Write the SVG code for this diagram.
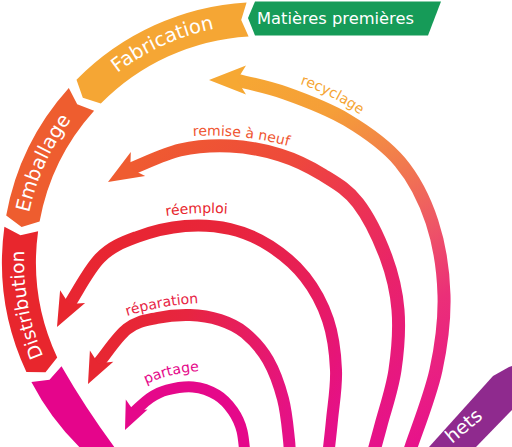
<svg xmlns="http://www.w3.org/2000/svg" width="512" height="447" viewBox="0 0 512 447">
<defs>
<style>
text{font-family:"DejaVu Sans","Liberation Sans",sans-serif}
.ring{font-size:19.5px;fill:#fff}
.lbl{font-size:14px}
.shaft{fill:none;stroke-linecap:butt}
</style>
<linearGradient id="gRec" gradientUnits="userSpaceOnUse" x1="220" y1="80" x2="420" y2="440">
<stop offset="0" stop-color="#F6A833"/><stop offset="0.2" stop-color="#F59E38"/><stop offset="0.4" stop-color="#F1784F"/><stop offset="0.55" stop-color="#EE5865"/><stop offset="0.72" stop-color="#EB2F78"/><stop offset="1" stop-color="#E7138A"/>
</linearGradient>
<linearGradient id="gRem" gradientUnits="userSpaceOnUse" x1="110" y1="175" x2="380" y2="440">
<stop offset="0" stop-color="#EF5C30"/><stop offset="0.3" stop-color="#EE4A3A"/><stop offset="0.5" stop-color="#EC3550"/><stop offset="0.7" stop-color="#E92468"/><stop offset="1" stop-color="#E6128A"/>
</linearGradient>
<linearGradient id="gRee" gradientUnits="userSpaceOnUse" x1="60" y1="250" x2="340" y2="420">
<stop offset="0" stop-color="#E8262E"/><stop offset="0.4" stop-color="#E8253A"/><stop offset="0.7" stop-color="#E71E5A"/><stop offset="0.9" stop-color="#E6147A"/><stop offset="1" stop-color="#E5108A"/>
</linearGradient>
<linearGradient id="gRep" gradientUnits="userSpaceOnUse" x1="90" y1="370" x2="290" y2="440">
<stop offset="0" stop-color="#E72731"/><stop offset="0.35" stop-color="#E72540"/><stop offset="0.65" stop-color="#E61C62"/><stop offset="1" stop-color="#E5108A"/>
</linearGradient>
<path id="tpFab" d="M68.2,123.8 A238 238 0 0 1 284.8,25.1"/>
<path id="tpEmb" d="M25.2,285.6 A238 238 0 0 1 123.1,68.7"/>
<path id="tpDis" d="M80.5,415.9 A238 238 0 0 1 37.9,181.8"/>
<path id="tpRec" d="M300,84 A230 230 0 0 1 370,122"/>
<path id="tpRem" d="M193,136 A300 300 0 0 1 292,147"/>
<path id="tpRee" d="M166,216 A300 300 0 0 1 232,214"/>
<path id="tpRep" d="M127,316 A280 280 0 0 1 202,303"/>
<path id="tpPar" d="M146,384 A150 150 0 0 1 204,371"/>
</defs>

<g id="matieres-premieres">
<polygon points="248,18 255,1.5 441,1.5 428,35.5 255,35.5" fill="#169B58"/>
<text x="257" y="24" font-size="16.3" fill="#fff">Matières premières</text>
</g>

<g id="fabrication">
<path d="M246.6,2.5 A260 260 0 0 0 76.5,79.8 L82.8,97.8 L100.8,103.6 A226 226 0 0 1 248.6,36.4 L241.2,19.9 Z" fill="#F5A634"/>
<text class="ring"><textPath href="#tpFab" startOffset="50%" text-anchor="middle">Fabrication</textPath></text>
</g>

<g id="emballage">
<path d="M68.8,88 A260 260 0 0 0 6.2,215.5 L21.6,226.9 L39.6,221.6 A226 226 0 0 1 94.1,110.8 L77.2,104.2 Z" fill="#EE5D2F"/>
<text class="ring"><textPath href="#tpEmb" startOffset="50%" text-anchor="middle">Emballage</textPath></text>
</g>

<g id="distribution">
<path d="M4.4,226.7 A260 260 0 0 0 26.4,371.9 L45.5,372.3 L57.2,357.5 A226 226 0 0 1 38.1,231.3 L20.5,235.3 Z" fill="#E8262D"/>
<text class="ring" style="font-size:18.5px"><textPath href="#tpDis" startOffset="50%" text-anchor="middle">Distribution</textPath></text>
</g>

<g id="consommation">
<path d="M31.4,382 A260 260 0 0 0 93.5,460 L124,460 Q88.5,413.5 61.5,366.3 L49.5,379.8 Z" fill="#E5058B"/>
</g>

<g id="dechets">
<polygon points="429,447 493,376 509,367 512,366 512,410 476,447" fill="#8F2A8E"/>
<text class="ring" style="font-size:19px" transform="translate(452,444) rotate(-40)">hets</text>
</g>

<g id="connectors">
<g id="recyclage">
<path class="shaft" stroke="url(#gRec)" stroke-width="13" d="M232,79 C249.7,83.7 265.8,86.2 285,93 C304.2,99.8 327.8,108.5 347,120 C366.2,131.5 385.8,145 400,162 C414.2,179 424.7,199.8 432,222 C439.3,244.2 443.3,270.3 444,295 C444.7,319.7 441.5,344.7 436,370 C430.5,395.3 416.3,431.2 411,447 L404,468"/>
<polygon points="209,80 246,65.5 237,80 246,94.5" fill="#F6A833"/>
<text class="lbl" fill="#F5A533"><textPath href="#tpRec">recyclage</textPath></text>
</g>
<g id="remise-a-neuf">
<path class="shaft" stroke="url(#gRem)" stroke-width="13" d="M128,170 C145.3,163.3 163,154 180,150 C196.5,146.3 213.3,145.2 230,146 C246.7,146.8 264.5,150.2 280,155 C295.5,159.8 310,167 323,175 C336,183 347.5,189.3 358,203 C368.5,216.7 379.3,239.2 386,257 C392.7,275 396.5,291.2 398,310 C399.5,328.8 397.8,350.8 395,370 C392.2,389.2 385.2,409.2 381,425 C376.8,440.8 373.7,451.7 370,465"/>
<polygon points="108,182 130.8,152 130.3,168.6 145.2,176" fill="#EF5C30"/>
<text class="lbl" fill="#EF5530"><textPath href="#tpRem">remise à neuf</textPath></text>
</g>
<g id="reemploi">
<path class="shaft" stroke="url(#gRee)" stroke-width="12" d="M67,308 C78,291.3 88.3,269.8 100,258 C111.7,246.2 122.8,242.3 137,237 C151.2,231.7 169.5,227.3 185,226 C200.5,224.7 215.8,225.7 230,229 C244.2,232.3 257.5,238 270,246 C282.5,254 295.3,264.7 305,277 C314.7,289.3 322.8,304.5 328,320 C333.2,335.5 335.3,353.3 336,370 C336.7,386.7 333.5,404.2 332,420 C330.5,435.8 328.7,450 327,465"/>
<polygon points="57,327 60.1,290.3 69,303.9 85.1,303.1" fill="#E8262E"/>
<text class="lbl" fill="#E8262E"><textPath href="#tpRee">réemploi</textPath></text>
</g>
<g id="reparation">
<path class="shaft" stroke="url(#gRep)" stroke-width="12" d="M97,365 C107,353 117,336.8 127,329 C137,321.2 146.5,320.3 157,318 C167.5,315.7 179.5,314.7 190,315 C200.5,315.3 210.8,317 220,320 C229.2,323 237,326.3 245,333 C253,339.7 261.7,349 268,360 C274.3,371 279.5,385.7 283,399 C286.5,412.3 287.8,429 289,440 C290.2,451 289.7,456.7 290,465"/>
<polygon points="88,384 89.9,350.4 98.1,363.3 113.3,361.8" fill="#E72731"/>
<text class="lbl" fill="#E72646"><textPath href="#tpRep">réparation</textPath></text>
</g>
<g id="partage">
<path class="shaft" stroke="#E5088A" stroke-width="11" d="M133,413 C138.7,408 144.3,401.8 150,398 C155.7,394.2 159.8,391.8 167,390 C174.2,388.2 184.7,386.2 193,387 C201.3,387.8 210.3,391 217,395 C223.7,399 228.8,405 233,411 C237.2,417 239.8,422 242,431 C244.2,440 244.7,453.7 246,465"/>
<polygon points="125,430 125.8,399.5 133.8,410.9 147.6,409.5" fill="#E5088A"/>
<text class="lbl" fill="#E5088A"><textPath href="#tpPar">partage</textPath></text>
</g>
</g>
</svg>
